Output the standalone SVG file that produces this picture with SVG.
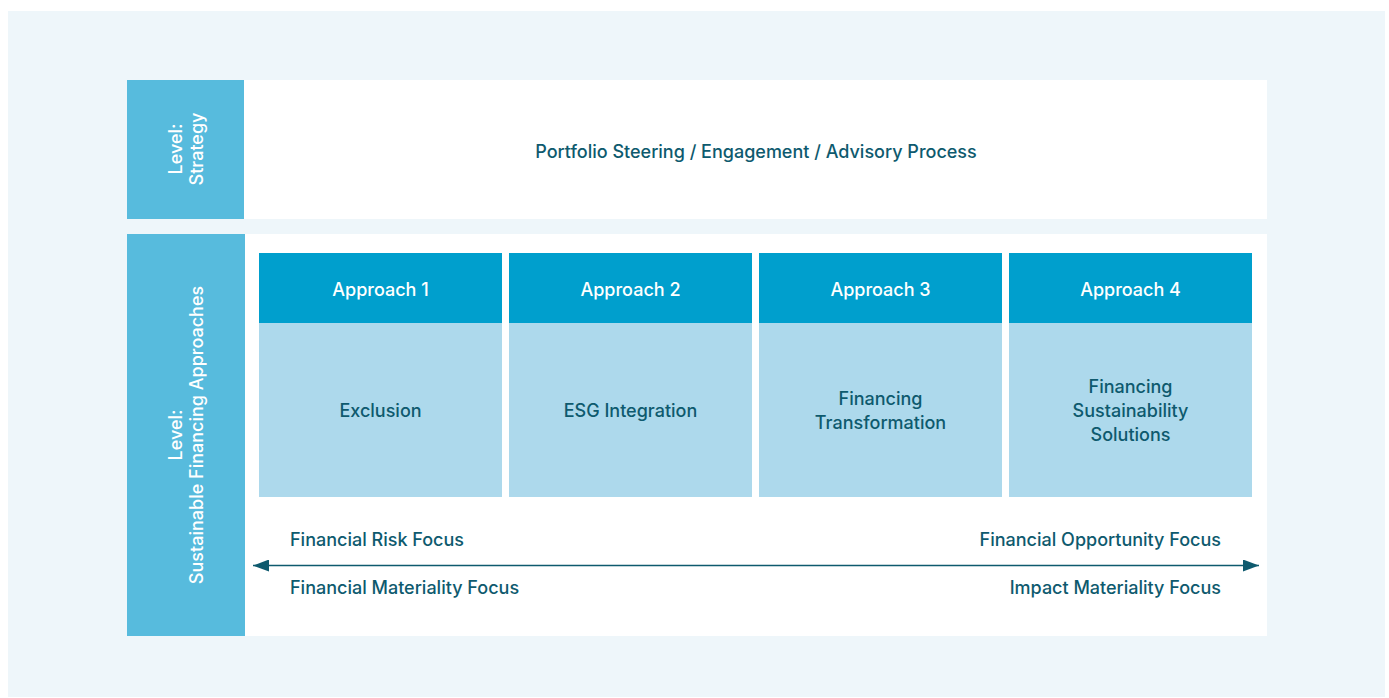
<svg xmlns="http://www.w3.org/2000/svg" width="1389" height="698" viewBox="0 0 1389 698">
<defs>
<style>
.t{font-family:Inter,"Liberation Sans",sans-serif;font-size:18px;font-weight:500;fill:#0E5A6E}
.w{fill:#ffffff}
.c{text-anchor:middle}
.lbl{fill:#57BBDD}
.hd{fill:#009FCD}
.bd{fill:#ADD9EC}
</style>
<marker id="ah" viewBox="0 0 16 12" refX="16" refY="6" markerWidth="16" markerHeight="12" markerUnits="userSpaceOnUse" orient="auto-start-reverse">
<path d="M0,0 L16,6 L0,12 Z" fill="#0E5A6E"/>
</marker>
</defs>
<rect x="0" y="0" width="1389" height="698" fill="#ffffff"/>
<rect x="8" y="11" width="1377" height="686" fill="#EEF6FA"/>
<g id="strategy">
<rect x="127" y="80" width="117" height="139" class="lbl"/>
<rect x="244" y="80" width="1023" height="139" fill="#ffffff"/>
<text class="t w c" transform="translate(185.5,149) rotate(-90)"><tspan x="0" y="-4">Level:</tspan><tspan x="0" y="17">Strategy</tspan></text>
<text class="t c" x="756" y="158">Portfolio Steering / Engagement / Advisory Process</text>
</g>
<g id="approaches-level">
<rect x="127" y="234" width="118" height="402" class="lbl"/>
<rect x="245" y="234" width="1022" height="402" fill="#ffffff"/>
<text class="t w c" transform="translate(185.5,435) rotate(-90)"><tspan x="0" y="-4">Level:</tspan><tspan x="0" y="17">Sustainable Financing Approaches</tspan></text>
</g>
<g id="approach1">
<rect x="259" y="253" width="243" height="70" class="hd"/>
<rect x="259" y="323" width="243" height="174" class="bd"/>
<text class="t w c" x="380.5" y="296">Approach 1</text>
<text class="t c" x="380.5" y="417">Exclusion</text>
</g>
<g id="approach2">
<rect x="509" y="253" width="243" height="70" class="hd"/>
<rect x="509" y="323" width="243" height="174" class="bd"/>
<text class="t w c" x="630.5" y="296">Approach 2</text>
<text class="t c" x="630.5" y="417">ESG Integration</text>
</g>
<g id="approach3">
<rect x="759" y="253" width="243" height="70" class="hd"/>
<rect x="759" y="323" width="243" height="174" class="bd"/>
<text class="t w c" x="880.5" y="296">Approach 3</text>
<text class="t c" x="880.5" y="405">Financing</text>
<text class="t c" x="880.5" y="429">Transformation</text>
</g>
<g id="approach4">
<rect x="1009" y="253" width="243" height="70" class="hd"/>
<rect x="1009" y="323" width="243" height="174" class="bd"/>
<text class="t w c" x="1130.5" y="296">Approach 4</text>
<text class="t c" x="1130.5" y="393">Financing</text>
<text class="t c" x="1130.5" y="417">Sustainability</text>
<text class="t c" x="1130.5" y="441">Solutions</text>
</g>
<g id="connectors">
<line x1="253" y1="565.5" x2="1259" y2="565.5" stroke="#0E5A6E" stroke-width="1.5" marker-start="url(#ah)" marker-end="url(#ah)"/>
</g>
<g id="axis-labels">
<text class="t" x="290" y="546">Financial Risk Focus</text>
<text class="t" x="290" y="594">Financial Materiality Focus</text>
<text class="t" x="1221" y="546" text-anchor="end">Financial Opportunity Focus</text>
<text class="t" x="1221" y="594" text-anchor="end">Impact Materiality Focus</text>
</g>
</svg>
